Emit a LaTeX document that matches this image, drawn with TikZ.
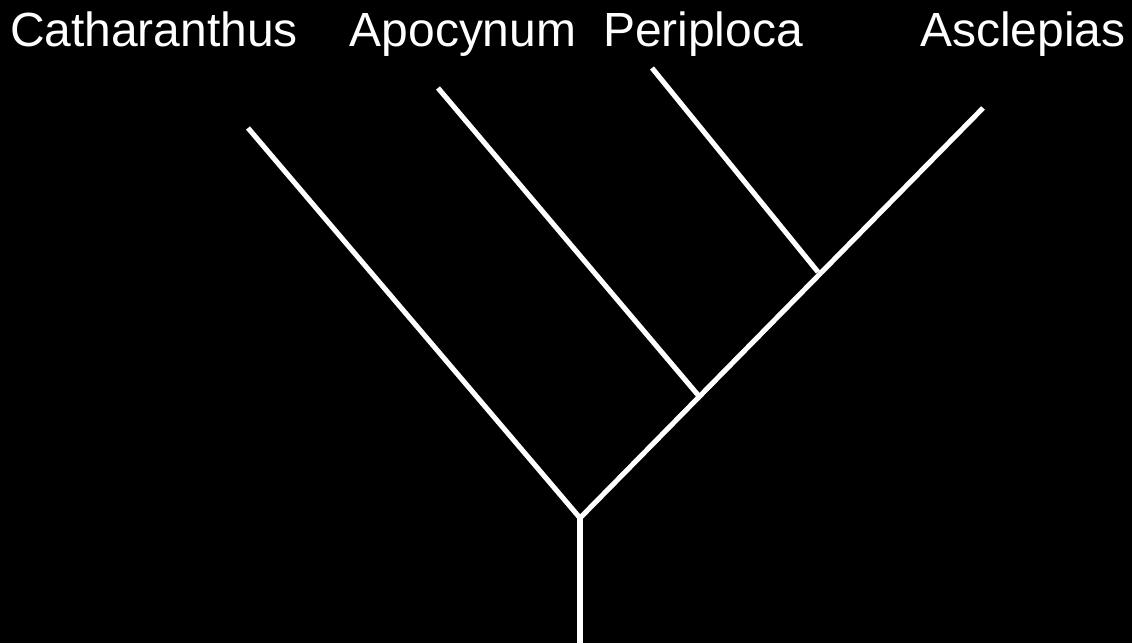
\documentclass[tikz,border=0pt]{standalone}
\usepackage{fontspec}
\setmainfont{Liberation Sans}
\usetikzlibrary{positioning}

\begin{document}
\begin{tikzpicture}[x=0.02cm,y=-0.02cm,
  taxon/.style={anchor=base,text=white,inner sep=0pt,font=\fontsize{27.3}{31}\selectfont},
  branch/.style={draw=white,line width=2.9pt}
]
  % Background
  \fill[black] (0,0) rectangle (1132,643);
  \useasboundingbox (0,0) rectangle (1132,643);
  % Tree points
  \coordinate (base) at (580,643);
  \coordinate (root) at (580,518);
  \coordinate (apoc) at (698,395);
  \coordinate (peri) at (818,272);
  \coordinate (l1) at (248,128);
  \coordinate (l2) at (438,88);
  \coordinate (l3) at (652,68);
  \coordinate (l4) at (983,108);
  % Branches
  \draw[branch] (base) -- (root);
  \draw[branch,line join=miter] (l1) -- (root) -- (l4);
  \draw[branch] (apoc) -- (l2);
  \draw[branch] (peri) -- (l3);
  % Taxa
  \node[taxon] (t1) at (154,46) {Catharanthus};
  \node[taxon] (t2) at (463,46) {Apocynum};
  \node[taxon] (t3) at (703,46) {Periploca};
  \node[taxon] (t4) at (1023,46) {Asclepias};
\end{tikzpicture}
\end{document}
